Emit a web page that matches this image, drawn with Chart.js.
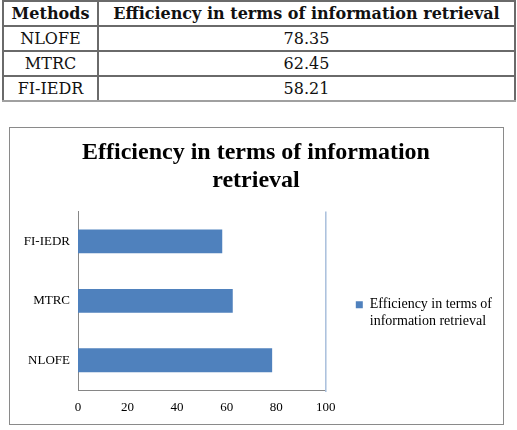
<!DOCTYPE html>
<html>
<head>
<meta charset="utf-8">
<script src="https://cdn.jsdelivr.net/npm/chart.js@4"></script>
<style>
  body { margin: 0; background: #fff; width: 517px; height: 430px; position: relative; overflow: hidden; }
  #tabela {
    position: absolute; left: 2px; top: 0; width: 514px;
    border-collapse: collapse; font-family: 'DejaVu Serif', serif; font-size: 16px; color: #111;
  }
  #tabela th, #tabela td { border: 2px solid #6a6a6a; height: 23px; padding: 0; text-align: center; }
  #tabela th { font-weight: bold; }
  #tabela tr:last-child td { border-bottom-color: #a0a0a0; }
  #quadro {
    position: absolute; left: 9px; top: 127px; width: 495px; height: 298px;
    box-sizing: border-box; border: 1.5px solid #8a8a8a;
  }
  #grafico { position: absolute; left: 0; top: 0; }
</style>
</head>
<body>
<table id="tabela">
  <thead><tr><th style="width:93px">Methods</th><th>Efficiency in terms of information retrieval</th></tr></thead>
  <tbody id="corpoTabela"></tbody>
</table>
<div id="quadro"><canvas id="grafico" width="492" height="295"></canvas></div>
<script>
// Dados
const methods = ['NLOFE', 'MTRC', 'FI-IEDR'];
const efficiency = [78.35, 62.45, 58.21];
const xTicks = [0, 20, 40, 60, 80, 100];
const seriesName = 'Efficiency in terms of information retrieval';
const chartTitle = ['Efficiency in terms of information', 'retrieval'];
const legendLines = ['Efficiency in terms of', 'information retrieval'];

// Preencher a tabela
const corpo = document.getElementById('corpoTabela');
methods.forEach((m, i) => {
    const tr = document.createElement('tr');
    tr.innerHTML = '<td>' + m + '</td><td>' + efficiency[i].toFixed(2) + '</td>';
    corpo.appendChild(tr);
});

const serif = 'Liberation Serif';

// Borda direita da área do gráfico (azul claro, como no Excel)
const plotBorder = {
    id: 'plotBorder',
    afterDraw: function(chart) {
        const { ctx, chartArea } = chart;
        ctx.save();
        ctx.strokeStyle = '#a9bfdc';
        ctx.lineWidth = 1.5;
        ctx.beginPath();
        ctx.moveTo(chartArea.right, chartArea.top);
        ctx.lineTo(chartArea.right, chartArea.bottom + 2);
        ctx.stroke();
        ctx.restore();
    }
};

const ctx = document.getElementById('grafico').getContext('2d');
new Chart(ctx, {
    type: 'bar',
    data: {
        labels: methods,
        datasets: [{
            label: seriesName,
            data: efficiency,
            backgroundColor: '#4f81bd',
            borderWidth: 0,
            barPercentage: 0.4,
            categoryPercentage: 1
        }]
    },
    options: {
        indexAxis: 'y',
        responsive: false,
        animation: false,
        layout: { padding: 0 },
        scales: {
            x: {
                min: 0,
                max: 100,
                afterBuildTicks: function(scale) {
                    scale.ticks = xTicks.map(v => ({ value: v }));
                },
                afterFit: function(scale) { scale.height = 33; },
                grid: { display: false, drawTicks: false },
                border: { color: '#868686', width: 1 },
                ticks: { color: '#000', padding: 10, font: { family: serif, size: 13 } }
            },
            y: {
                reverse: true,
                afterFit: function(scale) { scale.width = 68; },
                grid: { display: false, drawTicks: false },
                border: { color: '#868686', width: 1 },
                ticks: { color: '#000', padding: 8, font: { family: serif, size: 13 } }
            }
        },
        plugins: {
            title: {
                display: true,
                text: chartTitle,
                color: '#000',
                font: { family: serif, size: 24, weight: 'bold', lineHeight: 1.2 },
                padding: { top: 10, bottom: 16 }
            },
            legend: {
                position: 'right',
                maxWidth: 178,
                // título vazio só para empurrar a legenda para o meio
                title: { display: true, text: ' ', font: { size: 10 }, padding: { top: 33, bottom: 33 } },
                labels: {
                    color: '#000',
                    boxWidth: 7,
                    boxHeight: 7,
                    padding: 30,
                    font: { family: serif, size: 14 },
                    generateLabels: function(chart) {
                        const items = Chart.defaults.plugins.legend.labels.generateLabels(chart);
                        items.forEach(it => { it.text = legendLines; });
                        return items;
                    }
                }
            },
            tooltip: { enabled: false }
        }
    },
    plugins: [plotBorder]
});
</script>
</body>
</html>
